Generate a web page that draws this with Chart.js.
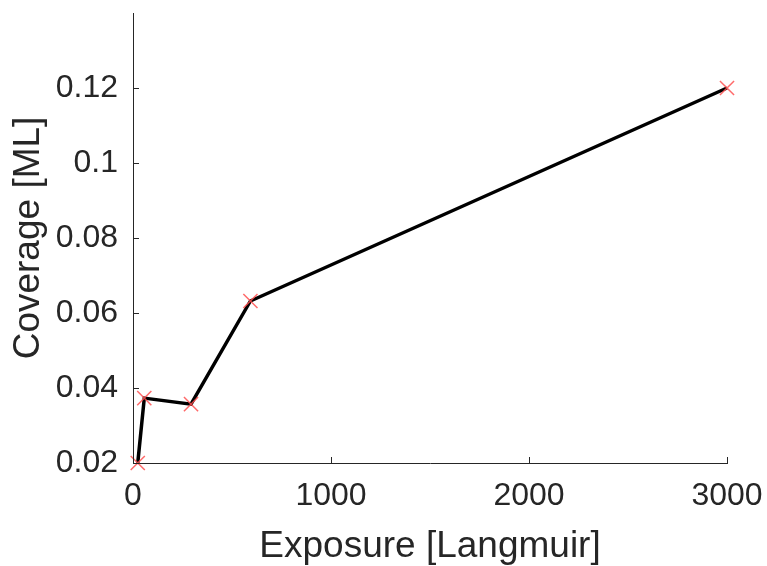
<!DOCTYPE html>
<html>
<head>
<meta charset="utf-8">
<script src="https://cdn.jsdelivr.net/npm/chart.js@4/dist/chart.umd.min.js"></script>
<style>
html, body { margin: 0; padding: 0; background: #ffffff; }
#wrap { width: 767px; height: 566px; }
</style>
</head>
<body>
<div id="wrap"><canvas id="c" width="767" height="566"></canvas></div>
<script>
// Data
const exposure = [24, 57, 293, 593, 3000];          // Langmuir
const coverage = [0.020, 0.0373, 0.0357, 0.0632, 0.120]; // ML
const xTicks = [0, 1000, 2000, 3000];
const yTicks = [0.02, 0.04, 0.06, 0.08, 0.1, 0.12];
const xLabel = 'Exposure [Langmuir]';
const yLabel = 'Coverage [ML]';

const axisColor = '#262626';
const fontFamily = '"Liberation Sans", Arial, Helvetica, sans-serif';

const innerTicks = {
  id: 'innerTicks',
  afterDraw(chart) {
    const ctx = chart.ctx;
    const xs = chart.scales.x, ys = chart.scales.y;
    const len = 6;
    ctx.save();
    ctx.strokeStyle = axisColor;
    ctx.lineWidth = 1;
    ctx.beginPath();
    xTicks.forEach(v => {
      const px = Math.round(xs.getPixelForValue(v)) + 0.5;
      ctx.moveTo(px, ys.bottom);
      ctx.lineTo(px, ys.bottom - len);
    });
    yTicks.forEach(v => {
      const py = Math.round(ys.getPixelForValue(v)) + 0.5;
      ctx.moveTo(xs.left, py);
      ctx.lineTo(xs.left + len, py);
    });
    ctx.stroke();
    ctx.restore();
  }
};

function noPad(s) {
  s.paddingTop = 0; s.paddingBottom = 0; s.paddingLeft = 0; s.paddingRight = 0;
}

new Chart(document.getElementById('c'), {
  type: 'line',
  data: {
    datasets: [{
      data: exposure.map((x, i) => ({ x: x, y: coverage[i] })),
      borderColor: '#000000',
      borderWidth: 3.5,
      tension: 0,
      fill: false,
      clip: false,
      pointStyle: 'crossRot',
      pointRadius: 10,
      pointHoverRadius: 10,
      pointBorderWidth: 1.5,
      pointBorderColor: 'rgba(255,80,80,0.85)',
      pointBackgroundColor: 'rgba(255,80,80,0.85)'
    }]
  },
  options: {
    responsive: false,
    animation: false,
    events: [],
    layout: { padding: { top: 13, right: 40, left: 0, bottom: 0 } },
    plugins: { legend: { display: false }, tooltip: { enabled: false } },
    scales: {
      x: {
        type: 'linear',
        min: 0, max: 3000,
        afterBuildTicks(s) { s.ticks = xTicks.map(v => ({ value: v })); },
        afterFit(s) { s.height = 103; noPad(s); },
        grid: { display: true, drawOnChartArea: false, drawTicks: false },
        border: { display: true, color: axisColor, width: 1 },
        ticks: {
          color: axisColor,
          padding: 14,
          maxRotation: 0,
          autoSkip: false,
          font: { family: fontFamily, size: 32 },
          callback: v => String(v)
        },
        title: {
          display: true,
          text: xLabel,
          color: axisColor,
          padding: { top: 0, bottom: 1 },
          font: { family: fontFamily, size: 37, lineHeight: 1.0 }
        }
      },
      y: {
        type: 'linear',
        min: 0.02, max: 0.14,
        afterBuildTicks(s) { s.ticks = yTicks.map(v => ({ value: v })); },
        afterFit(s) { s.width = 133; noPad(s); },
        grid: { display: true, drawOnChartArea: false, drawTicks: false },
        border: { display: true, color: axisColor, width: 1 },
        ticks: {
          color: axisColor,
          padding: 15,
          autoSkip: false,
          font: { family: fontFamily, size: 32 },
          callback: v => String(v)
        },
        title: {
          display: true,
          text: yLabel,
          color: axisColor,
          padding: { top: 10, bottom: 0 },
          font: { family: fontFamily, size: 37, lineHeight: 1.0 }
        }
      }
    }
  },
  plugins: [innerTicks]
});
</script>
</body>
</html>
